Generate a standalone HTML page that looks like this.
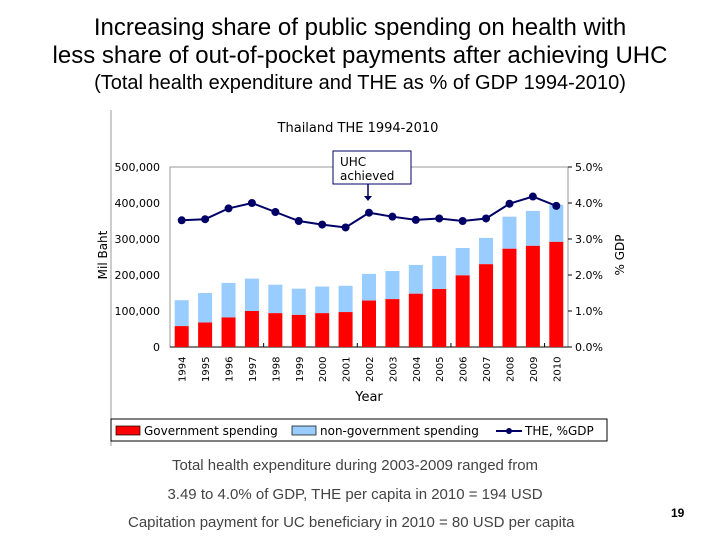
<!DOCTYPE html>
<html><head><meta charset="utf-8"><style>
body{margin:0;width:720px;height:540px;background:#fff;overflow:hidden;font-family:"Liberation Sans",sans-serif;position:relative}
.t{position:absolute;left:0;width:720px;text-align:center;color:#000}
</style></head><body>
<div class="t" style="top:14px;font-size:24px">Increasing share of public spending on health with</div>
<div class="t" style="top:42px;font-size:24px">less share of out-of-pocket payments after achieving UHC</div>
<div class="t" style="top:72px;font-size:20px">(Total health expenditure and THE as % of GDP 1994-2010)</div>
<svg id="c" width="720" height="540" style="position:absolute;left:0;top:0" font-family="DejaVu Sans, sans-serif"></svg>
<div class="t" style="top:457px;left:-5px;font-size:15px;color:#444">Total health expenditure during 2003-2009 ranged from</div>
<div class="t" style="top:486px;left:-5px;font-size:15px;color:#444">3.49 to 4.0% of GDP, THE per capita in 2010 = 194 USD</div>
<div style="position:absolute;top:514px;left:128px;font-size:15px;color:#444">Capitation payment for UC beneficiary in 2010 = 80 USD per capita</div>
<div style="position:absolute;top:506px;left:671px;font-size:12px;font-weight:bold">19</div>
<script>
const years=["1994","1995","1996","1997","1998","1999","2000","2001","2002","2003","2004","2005","2006","2007","2008","2009","2010"];
const govSpending=[58,68,82,100,94,89,94,97,129,133,148,161,199,230,273,281,292];
const totalSpending=[130,150,178,190,173,162,168,170,203,211,228,253,275,303,362,378,395];
const thePctGdp=[3.52,3.55,3.85,4.0,3.75,3.5,3.4,3.32,3.73,3.62,3.53,3.57,3.5,3.57,3.98,4.18,3.92];
const leftTicks=[0,100,200,300,400,500];
const leftTickLabels=["0","100,000","200,000","300,000","400,000","500,000"];
const rightTicks=[0,1,2,3,4,5];
const rightTickLabels=["0.0%","1.0%","2.0%","3.0%","4.0%","5.0%"];
const svg=document.getElementById('c');const NS='http://www.w3.org/2000/svg';
function mk(t,a,txt){const e=document.createElementNS(NS,t);for(const k in a)e.setAttribute(k,a[k]);if(txt!==undefined)e.textContent=txt;svg.appendChild(e);return e;}
const X0=170,X1=568,Y0=347,Y1=167;
const yL=v=>Y0-(v/500)*(Y0-Y1);
const yR=v=>Y0-(v/5)*(Y0-Y1);
const step=(X1-X0)/years.length;
const xC=i=>X0+step*(i+0.5);
let e;
e=mk('line',{x1:111,y1:110,x2:111,y2:446,stroke:'#999','stroke-width':1});

e=mk('text',{x:358,y:132,'font-size':13,'text-anchor':'middle'},'Thailand THE 1994-2010');

e=mk('rect',{x:X0,y:Y1,width:X1-X0,height:Y0-Y1,fill:'none',stroke:'#999'});

leftTicks.forEach((v,i)=>{e=mk('text',{x:160,y:yL(v)+4,'font-size':11,'text-anchor':'end'},leftTickLabels[i]);
});
rightTicks.forEach((v,i)=>{mk('line',{x1:X1,x2:X1+4,y1:yR(v),y2:yR(v),stroke:'#000'});
e=mk('text',{x:575,y:yR(v)+4,'font-size':11},rightTickLabels[i]);
});
e=mk('text',{x:0,y:0,'font-size':12,'text-anchor':'middle',transform:'translate(107,255) rotate(-90)'},'Mil Baht');

e=mk('text',{x:0,y:0,'font-size':12,'text-anchor':'middle',transform:'translate(624,255) rotate(-90)'},'% GDP');

mk('line',{x1:X0,x2:X1,y1:Y0,y2:Y0,stroke:'#000'});
years.forEach((y,i)=>{
 const bw=14,x=xC(i)-bw/2;
 e=mk('rect',{x:x,y:yL(totalSpending[i]),width:bw,height:yL(govSpending[i])-yL(totalSpending[i]),fill:'#99ccff'});
 
 e=mk('rect',{x:x,y:yL(govSpending[i]),width:bw,height:Y0-yL(govSpending[i]),fill:'#ff0000'});
 
 e=mk('text',{x:0,y:0,'font-size':10,transform:`translate(${xC(i)+4},382) rotate(-90)`},y);
 
});
[3,7,11,15].forEach(k=>mk('line',{x1:X0+step*k+step/2+step/2,x2:X0+step*k+step,y1:Y0,y2:Y0-4,stroke:'#000'}));
e=mk('polyline',{points:thePctGdp.map((v,i)=>xC(i)+','+yR(v)).join(' '),fill:'none',stroke:'#000066','stroke-width':2});

thePctGdp.forEach((v,i)=>{e=mk('circle',{cx:xC(i),cy:yR(v),r:4,fill:'#000066'});
});
e=mk('text',{x:369,y:401,'font-size':13,'text-anchor':'middle'},'Year');

e=mk('rect',{x:333,y:151,width:78,height:33,fill:'#fff',stroke:'#000066'});

mk('text',{x:340,y:166,'font-size':12,fill:'#000'},'UHC');
mk('text',{x:340,y:180,'font-size':12,fill:'#000'},'achieved');
e=mk('line',{x1:368,y1:184,x2:368,y2:197,stroke:'#000066','stroke-width':1.5});

mk('polygon',{points:'364,196 372,196 368,201',fill:'#000066'});
e=mk('rect',{x:111,y:419,width:496,height:22,fill:'#fff',stroke:'#000'});

e=mk('rect',{x:116,y:426,width:24,height:9,fill:'#ff0000',stroke:'#000','stroke-width':0.7});

mk('text',{x:144,y:435,'font-size':12},'Government spending');
e=mk('rect',{x:292,y:426,width:24,height:9,fill:'#99ccff',stroke:'#000','stroke-width':0.7});

mk('text',{x:320,y:435,'font-size':12},'non-government spending');
mk('line',{x1:496,x2:522,y1:431,y2:431,stroke:'#000066','stroke-width':2});
mk('circle',{cx:509,cy:431,r:3,fill:'#000066'});
mk('text',{x:525,y:435,'font-size':12},'THE, %GDP');
</script>
</body></html>
